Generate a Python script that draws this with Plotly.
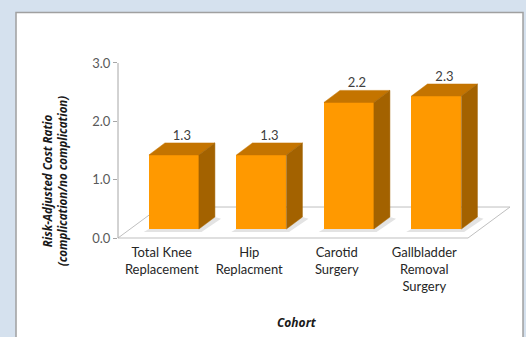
import plotly.graph_objects as go

# ---- data ----
categories = ["Total Knee<br>Replacement", "Hip<br>Replacment", "Carotid<br>Surgery",
              "Gallbladder<br>Removal<br>Surgery"]
values = [1.27, 1.27, 2.17, 2.28]
y_ticks = [0, 1, 2, 3]
y_tick_labels = ["0.0", "1.0", "2.0", "3.0"]

# ---- 3D-look geometry (style, in axis units) ----
FLOOR_DX, FLOOR_DY = 0.48, 0.531
BAR_OFF_X, BAR_OFF_Y = 0.139, 0.154
BAR_W = 0.571
BAR_DX, BAR_DY = 0.183, 0.206

FRONT = "#FF9900"
TOP = "#C47400"
SIDE = "#A36200"
FONT = "Lato"
TFONT = "Open Sans"

n = len(categories)
xs = list(range(n))

fig = go.Figure()

# front faces
fig.add_trace(go.Bar(
    x=[i + BAR_OFF_X for i in xs], y=values, base=BAR_OFF_Y, width=BAR_W,
    marker=dict(color=FRONT, line=dict(width=0)), hoverinfo="skip", showlegend=False))

top_x, top_y, side_x, side_y = [], [], [], []
lab_x, lab_y = [], []
shadow_paths = []
for i, v in zip(xs, values):
    xl = i + BAR_OFF_X - BAR_W / 2
    xr = i + BAR_OFF_X + BAR_W / 2
    yb = BAR_OFF_Y
    yt = BAR_OFF_Y + v
    top_x += [xl, xr, xr + BAR_DX, xl + BAR_DX, xl, None]
    top_y += [yt, yt, yt + BAR_DY, yt + BAR_DY, yt, None]
    side_x += [xr, xr + BAR_DX, xr + BAR_DX, xr, xr, None]
    side_y += [yb, yb + BAR_DY, yt + BAR_DY, yt, yb, None]
    lab_x.append(i + BAR_OFF_X + BAR_DX / 2)
    lab_y.append(yt + BAR_DY)
    shadow_paths.append(
        f"M {xl - 0.06},{yb - 0.05} L {xr + 0.03},{yb - 0.05} "
        f"L {xr + BAR_DX + 0.07},{yb + BAR_DY - 0.03} L {xr + BAR_DX},{yb + BAR_DY} "
        f"L {xr},{yb} L {xl},{yb} Z")

fig.add_trace(go.Scatter(x=top_x, y=top_y, mode="lines", fill="toself", fillcolor=TOP,
                         line=dict(color=TOP, width=0.5), hoverinfo="skip", showlegend=False))
fig.add_trace(go.Scatter(x=side_x, y=side_y, mode="lines", fill="toself", fillcolor=SIDE,
                         line=dict(color=SIDE, width=0.5), hoverinfo="skip", showlegend=False))
fig.add_trace(go.Scatter(x=lab_x, y=lab_y, mode="text", text=[f"{v:.1f}" for v in values],
                         textposition="top center",
                         textfont=dict(family=FONT, size=13, color="#404040"),
                         hoverinfo="skip", showlegend=False, cliponaxis=False))

shapes = []
# white panel
shapes.append(dict(type="rect", xref="paper", yref="paper", x0=-0.2537, x1=1.0075,
                   y0=-0.55, y1=1.1368, fillcolor="white",
                   line=dict(color="#A0A0A0", width=1.5), layer="below"))
# floor
x0f, x1f = -0.5, n - 0.5
shapes.append(dict(type="path", xref="x", yref="y", layer="below",
                   path=f"M {x0f},0 L {x1f},0 L {x1f + FLOOR_DX},{FLOOR_DY} L {x0f + FLOOR_DX},{FLOOR_DY} Z",
                   fillcolor="white", line=dict(color="#BFBFBF", width=1)))
# soft shadows at bar bases
for p in shadow_paths:
    shapes.append(dict(type="path", xref="x", yref="y", layer="below", path=p,
                       fillcolor="#E3E3E3", line=dict(width=0)))
# y axis line
shapes.append(dict(type="line", xref="paper", yref="y", x0=0, x1=0, y0=y_ticks[0], y1=y_ticks[-1],
                   line=dict(color="#A6A6A6", width=1)))

annotations = [
    dict(text="<b><i>Risk-Adjusted Cost Ratio</i></b><br><b><i>(complication/no complication)</i></b>",
         xref="paper", yref="paper", x=-0.158, y=0.30, textangle=-90, showarrow=False,
         xanchor="center", yanchor="middle",
         font=dict(family=TFONT, size=11.5, color="#1a1a1a")),
    dict(text="<b><i>Cohort</i></b>", xref="paper", yref="paper", x=0.445, y=-0.403,
         showarrow=False, xanchor="center", yanchor="middle",
         font=dict(family=TFONT, size=12, color="#1a1a1a")),
]

fig.update_layout(
    width=526, height=337,
    margin=dict(l=118, r=6, t=40, b=96),
    paper_bgcolor="#D5E1EE", plot_bgcolor="rgba(0,0,0,0)",
    shapes=shapes, annotations=annotations, bargap=0,
    xaxis=dict(range=[-0.5, 4.094], tickvals=xs, ticktext=categories, showgrid=False,
               zeroline=False, showline=False, ticks="", ticklabelstandoff=2,
               tickfont=dict(family=FONT, size=13, color="#262626")),
    yaxis=dict(range=[-0.0514, 3.394], tickvals=y_ticks, ticktext=y_tick_labels, showgrid=False,
               zeroline=False, showline=False, ticks="outside", ticklen=4, tickcolor="#A6A6A6",
               tickfont=dict(family=FONT, size=13, color="#595959")),
)

fig.write_html("out.html")
